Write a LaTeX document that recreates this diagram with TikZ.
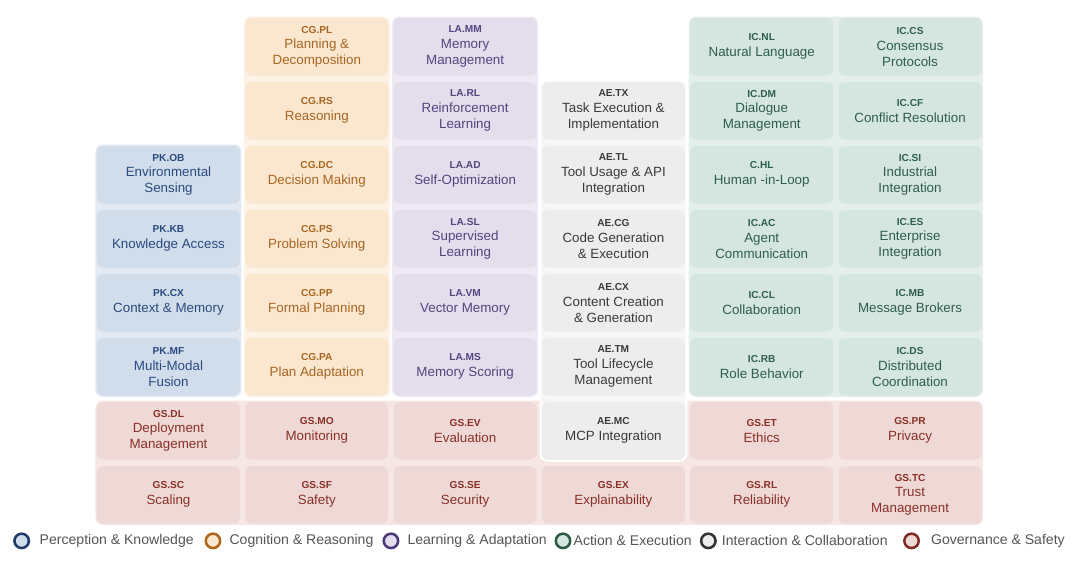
\documentclass[tikz,border=0pt]{standalone}
\usepackage{fontspec}
\setmainfont{Liberation Sans}
\usetikzlibrary{fit,backgrounds}

\definecolor{pkfill}{HTML}{D1DDEB}\definecolor{pkband}{HTML}{E3E9F2}\definecolor{pktext}{HTML}{2A4A7F}\definecolor{pkring}{HTML}{1E3A6A}
\definecolor{cgfill}{HTML}{FBE7D0}\definecolor{cgband}{HTML}{FDF2E6}\definecolor{cgtext}{HTML}{A8651F}\definecolor{cgring}{HTML}{B0661A}
\definecolor{lafill}{HTML}{E3DDEC}\definecolor{laband}{HTML}{EEEAF4}\definecolor{latext}{HTML}{55447F}\definecolor{laring}{HTML}{4A3878}
\definecolor{aefill}{HTML}{EDEDED}\definecolor{aeband}{HTML}{F6F6F6}\definecolor{aetext}{HTML}{3A3A3A}\definecolor{aering}{HTML}{333333}
\definecolor{icfill}{HTML}{D5E5E0}\definecolor{icband}{HTML}{E4EFEB}\definecolor{ictext}{HTML}{2F5E4B}\definecolor{icring}{HTML}{2C5C45}
\definecolor{gsfill}{HTML}{EFD9D7}\definecolor{gsband}{HTML}{F6E7E5}\definecolor{gstext}{HTML}{8A2F27}\definecolor{gsring}{HTML}{7F2A22}
\definecolor{legtext}{HTML}{555555}

\newcommand{\cid}[1]{{\fontsize{7.2}{8}\selectfont\bfseries #1}}

\tikzset{
	cell/.style={rounded corners=0.15cm, minimum width=3.575cm, minimum height=1.4375cm, inner sep=0pt, align=center, font=\fontsize{9.5}{11.3}\selectfont},
	pk/.style={cell, fill=pkfill, text=pktext},
	cg/.style={cell, fill=cgfill, text=cgtext},
	la/.style={cell, fill=lafill, text=latext},
	ae/.style={cell, fill=aefill, text=aetext},
	ic/.style={cell, fill=icfill, text=ictext},
	gs/.style={cell, fill=gsfill, text=gstext},
	band/.style={rounded corners=0.18cm, inner sep=0.03cm},
	ring/.style={circle, line width=1.8pt, minimum size=0.36cm, inner sep=0pt},
	legend/.style={anchor=west, inner sep=0pt, text=legtext, font=\fontsize{10}{12}\selectfont},
}

\begin{document}
\begin{tikzpicture}[x=3.7075cm, y=-1.6cm]
		\useasboundingbox (-0.136,0.2695) rectangle (7.146,9.145);
		
		\node[pk] (pkob) at (1,3) {\cid{PK.OB}\\Environmental\\Sensing};
		\node[pk] (pkkb) at (1,4) {\cid{PK.KB}\\Knowledge Access};
		\node[pk] (pkcx) at (1,5) {\cid{PK.CX}\\Context \& Memory};
		\node[pk] (pkmf) at (1,6) {\cid{PK.MF}\\Multi-Modal\\Fusion};
		
		\node[cg] (cgpl) at (2,1) {\cid{CG.PL}\\Planning \&\\Decomposition};
		\node[cg] (cgrs) at (2,2) {\cid{CG.RS}\\Reasoning};
		\node[cg] (cgdc) at (2,3) {\cid{CG.DC}\\Decision Making};
		\node[cg] (cgps) at (2,4) {\cid{CG.PS}\\Problem Solving};
		\node[cg] (cgpp) at (2,5) {\cid{CG.PP}\\Formal Planning};
		\node[cg] (cgpa) at (2,6) {\cid{CG.PA}\\Plan Adaptation};
		
		\node[la] (lamm) at (3,1) {\cid{LA.MM}\\Memory\\Management};
		\node[la] (larl) at (3,2) {\cid{LA.RL}\\Reinforcement\\Learning};
		\node[la] (laad) at (3,3) {\cid{LA.AD}\\Self-Optimization};
		\node[la] (lasl) at (3,4) {\cid{LA.SL}\\Supervised\\Learning};
		\node[la] (lavm) at (3,5) {\cid{LA.VM}\\Vector Memory};
		\node[la] (lams) at (3,6) {\cid{LA.MS}\\Memory Scoring};
		
		\node[ae] (aetx) at (4,2) {\cid{AE.TX}\\Task Execution \&\\Implementation};
		\node[ae] (aetl) at (4,3) {\cid{AE.TL}\\Tool Usage \& API\\Integration};
		\node[ae] (aecg) at (4,4) {\cid{AE.CG}\\Code Generation\\\& Execution};
		\node[ae] (aecx) at (4,5) {\cid{AE.CX}\\Content Creation\\\& Generation};
		\node[ae] (aetm) at (4,6) {\cid{AE.TM}\\Tool Lifecycle\\Management};
		\node[ae] (aemc) at (4,7) {\cid{AE.MC}\\MCP Integration};
		
		\node[ic] (icnl) at (5,1) {\cid{IC.NL}\\Natural Language};
		\node[ic] (icdm) at (5,2) {\cid{IC.DM}\\Dialogue\\Management};
		\node[ic] (ichl) at (5,3) {\cid{C.HL}\\Human -in-Loop};
		\node[ic] (icac) at (5,4) {\cid{IC.AC}\\Agent\\Communication};
		\node[ic] (iccl) at (5,5) {\cid{IC.CL}\\Collaboration};
		\node[ic] (icrb) at (5,6) {\cid{IC.RB}\\Role Behavior};
		\node[ic] (iccs) at (6,1) {\cid{IC.CS}\\Consensus\\Protocols};
		\node[ic] (iccf) at (6,2) {\cid{IC.CF}\\Conflict Resolution};
		\node[ic] (icsi) at (6,3) {\cid{IC.SI}\\Industrial\\Integration};
		\node[ic] (ices) at (6,4) {\cid{IC.ES}\\Enterprise\\Integration};
		\node[ic] (icmb) at (6,5) {\cid{IC.MB}\\Message Brokers};
		\node[ic] (icds) at (6,6) {\cid{IC.DS}\\Distributed\\Coordination};
		
		\node[gs] (gsdl) at (1,7) {\cid{GS.DL}\\Deployment\\Management};
		\node[gs] (gsmo) at (2,7) {\cid{GS.MO}\\Monitoring};
		\node[gs] (gsev) at (3,7) {\cid{GS.EV}\\Evaluation};
		\node[gs] (gset) at (5,7) {\cid{GS.ET}\\Ethics};
		\node[gs] (gspr) at (6,7) {\cid{GS.PR}\\Privacy};
		\node[gs] (gssc) at (1,8) {\cid{GS.SC}\\Scaling};
		\node[gs] (gssf) at (2,8) {\cid{GS.SF}\\Safety};
		\node[gs] (gsse) at (3,8) {\cid{GS.SE}\\Security};
		\node[gs] (gsex) at (4,8) {\cid{GS.EX}\\Explainability};
		\node[gs] (gsrl) at (5,8) {\cid{GS.RL}\\Reliability};
		\node[gs] (gstc) at (6,8) {\cid{GS.TC}\\Trust\\Management};
		
		\begin{scope}[on background layer]
		\node[band, fill=pkband, fit=(pkob)(pkmf)] (pkarea) {};
		\node[band, fill=cgband, fit=(cgpl)(cgpa)] (cgarea) {};
		\node[band, fill=laband, fit=(lamm)(lams)] (laarea) {};
		\node[band, fill=icband, fit=(icnl)(icds)] (icarea) {};
		\node[band, fill=gsband, fit=(gsdl)(gstc)] (gsarea) {};
		\node[band, fill=aeband, draw=white, line width=1.2pt, fit=(aetx)(aemc)] (aearea) {};
		\end{scope}
		
		\node[ring, draw=pkring, fill=pkfill] (lgpk) at (0.01,8.72) {};
		\node[legend] (txpk) at (0.13,8.72) {Perception \& Knowledge};
		\node[ring, draw=cgring, fill=cgfill] (lgcg) at (1.30,8.72) {};
		\node[legend] (txcg) at (1.41,8.72) {Cognition \& Reasoning};
		\node[ring, draw=laring, fill=lafill] (lgla) at (2.50,8.72) {};
		\node[legend] (txla) at (2.61,8.72) {Learning \& Adaptation};
		\node[ring, draw=icring, fill=icfill] (lgae) at (3.66,8.72) {};
		\node[legend] (txae) at (3.73,8.72) {Action \& Execution};
		\node[ring, draw=aering, fill=aefill] (lgic) at (4.64,8.72) {};
		\node[legend] (txic) at (4.73,8.72) {Interaction \& Collaboration};
		\node[ring, draw=gsring, fill=gsfill] (lggs) at (6.01,8.72) {};
		\node[legend] (txgs) at (6.14,8.72) {Governance \& Safety};
\end{tikzpicture}
\end{document}
